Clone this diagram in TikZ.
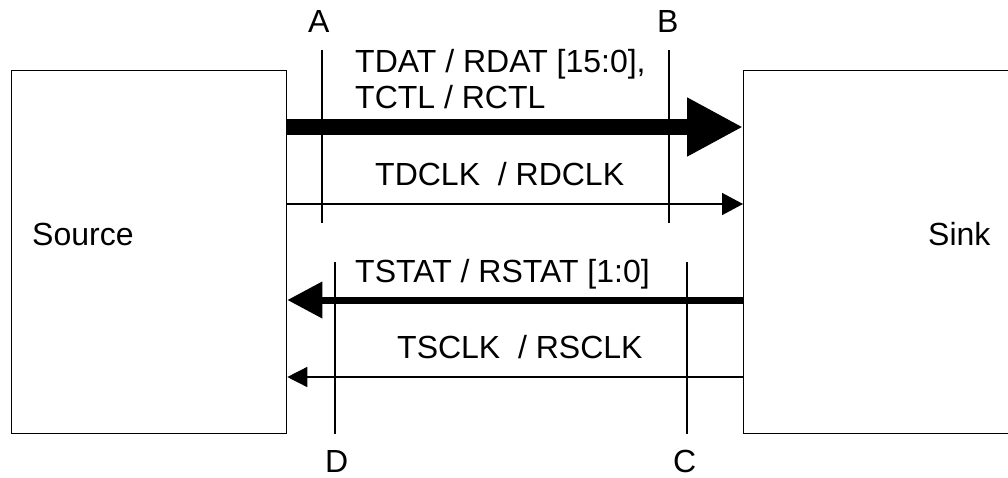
\documentclass[tikz,border=0pt]{standalone}
\usepackage{fontspec}
\setmainfont{Liberation Sans}
\usetikzlibrary{arrows.meta}
\begin{document}
\begin{tikzpicture}[x=1pt,y=-1pt,
  box/.style={draw, line width=1.3pt, minimum width=#1, minimum height=363pt, anchor=north west, inner sep=0pt},
  lbl/.style={anchor=base west, inner sep=0pt, font=\fontsize{32}{38}\selectfont},
  marker/.style={line width=1.5pt},
  busfwd/.style={line width=16pt, -{Triangle[length=56pt,width=55pt]}},
  busrev/.style={line width=7pt, -{Triangle[length=35pt,width=35pt]}},
  clkfwd/.style={line width=1.5pt, -{Triangle[length=21pt,width=22pt]}},
  clkrev/.style={line width=1.5pt, -{Triangle[length=20pt,width=20pt]}}]
\useasboundingbox (0,0) rectangle (1008,477);
\fill[white] (0,0) rectangle (1008,477);
% boxes
\node[box=275pt] (src) at (11,70) {};
\node[box=300pt] (snk) at (743,70) {};
\node[lbl] (srcl) at (32,245) {Source};
\node[lbl] (snkl) at (928,245) {Sink};
% marker lines
\coordinate (At) at (322,50);  \coordinate (Ab) at (322,223);
\coordinate (Bt) at (669,50);  \coordinate (Bb) at (669,223);
\coordinate (Dt) at (335,262); \coordinate (Db) at (335,434);
\coordinate (Ct) at (687,262); \coordinate (Cb) at (687,434);
\draw[marker] (At) -- (Ab);
\draw[marker] (Bt) -- (Bb);
\draw[marker] (Dt) -- (Db);
\draw[marker] (Ct) -- (Cb);
\node[lbl] (A) at (308,32) {A};
\node[lbl] (B) at (657,32) {B};
\node[lbl] (D) at (325,472) {D};
\node[lbl] (C) at (673,472) {C};
% signals
\draw[busfwd] (src.east |- 0,127) -- (snk.west |- 0,127);
\draw[clkfwd] (src.east |- 0,204) -- (snk.west |- 0,204);
\draw[busrev] (snk.west |- 0,300) -- (src.east |- 0,300);
\draw[clkrev] (snk.west |- 0,377) -- (src.east |- 0,377);
\node[lbl] (l1) at (355,72) {TDAT / RDAT [15:0],};
\node[lbl] (l2) at (355,108) {TCTL / RCTL};
\node[lbl] (l3) at (375,185) {TDCLK \ / RDCLK};
\node[lbl] (l4) at (355,282) {TSTAT / RSTAT [1:0]};
\node[lbl] (l5) at (397,358) {TSCLK \ / RSCLK};
\end{tikzpicture}
\end{document}
